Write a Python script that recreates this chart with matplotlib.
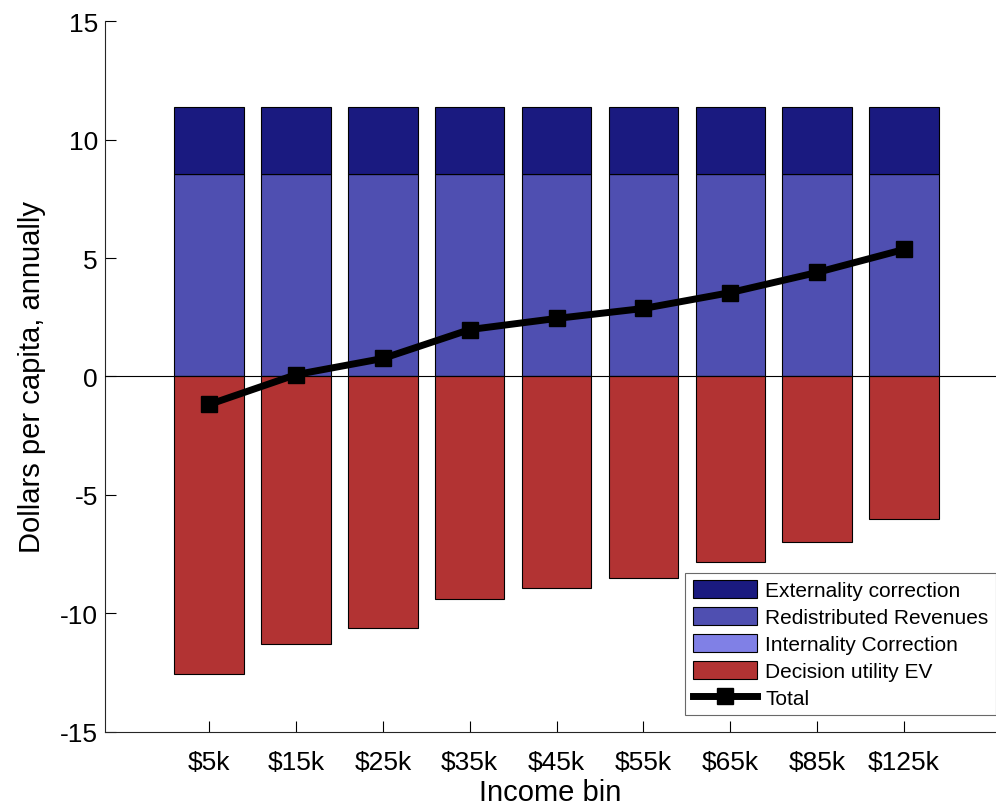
import matplotlib
matplotlib.use("Agg")
import matplotlib.pyplot as plt
import numpy as np

categories = ["$5k", "$15k", "$25k", "$35k", "$45k", "$55k", "$65k", "$85k", "$125k"]
externality = [2.83, 2.83, 2.83, 2.83, 2.83, 2.83, 2.83, 2.83, 2.83]
redistributed = [8.54, 8.54, 8.54, 8.54, 8.54, 8.54, 8.54, 8.54, 8.54]
internality = [0, 0, 0, 0, 0, 0, 0, 0, 0]
decision_ev = [-12.55, -11.29, -10.61, -9.39, -8.92, -8.50, -7.83, -6.98, -6.01]
total = [-1.18, 0.08, 0.76, 1.98, 2.45, 2.87, 3.54, 4.39, 5.36]

plt.rcParams['font.family'] = ['Liberation Sans', 'DejaVu Sans']

fig = plt.figure(figsize=(9.96, 8.12), dpi=100)
ax = fig.add_axes([0.1054, 0.0973, 0.8946, 0.8756])

x = np.arange(1, len(categories) + 1)
w = 0.8
c_ext = "#1a1a80"
c_red = "#4f4fb1"
c_int = "#8080e6"
c_dec = "#b23333"
red = np.array(redistributed)
ext = np.array(externality)
intl = np.array(internality)
ax.bar(x, red, w, color=c_red, edgecolor="black", linewidth=0.8, label="Redistributed Revenues", zorder=2)
ax.bar(x, intl, w, bottom=red, color=c_int, edgecolor="black", linewidth=0.8, label="Internality Correction", zorder=2)
ax.bar(x, ext, w, bottom=red + intl, color=c_ext, edgecolor="black", linewidth=0.8, label="Externality correction", zorder=2)
ax.bar(x, decision_ev, w, color=c_dec, edgecolor="black", linewidth=0.8, label="Decision utility EV", zorder=2)
ax.axhline(0, color="black", linewidth=0.8, zorder=3)
ax.plot(x, total, color="black", linewidth=5, marker="s", markersize=12, label="Total", zorder=4)

ax.set_xlim(-0.2, 10.06)
ax.set_ylim(-15, 15)
ax.set_yticks([-15, -10, -5, 0, 5, 10, 15])
ax.set_yticklabels(["-15", "-10", "-5", "0", "5", "10", "15"], fontsize=19)
ax.set_xticks(x)
ax.set_xticklabels(categories, fontsize=19)
ax.tick_params(direction="in", length=8, width=0.8)
ax.tick_params(axis="x", pad=13)
ax.tick_params(axis="y", pad=5)
for s in ["top", "right"]:
    ax.spines[s].set_visible(False)
for s in ["left", "bottom"]:
    ax.spines[s].set_linewidth(0.8)
    ax.spines[s].set_color("#262626")
ax.set_xlabel("Income bin", fontsize=21, labelpad=3)
ax.set_ylabel("Dollars per capita, annually", fontsize=21, labelpad=10)

h, l = ax.get_legend_handles_labels()
order = ["Externality correction", "Redistributed Revenues", "Internality Correction", "Decision utility EV", "Total"]
hd = dict(zip(l, h))
leg = ax.legend([hd[k] for k in order], order, loc="lower right", bbox_to_anchor=(1.0, 0.024),
                fontsize=15, frameon=True, fancybox=False, edgecolor="#444444",
                handlelength=3.1, handleheight=0.95, borderpad=0.35, labelspacing=0.32,
                handletextpad=0.4, borderaxespad=0)
leg.get_frame().set_linewidth(0.8)

fig.savefig("out.png", dpi=100)
